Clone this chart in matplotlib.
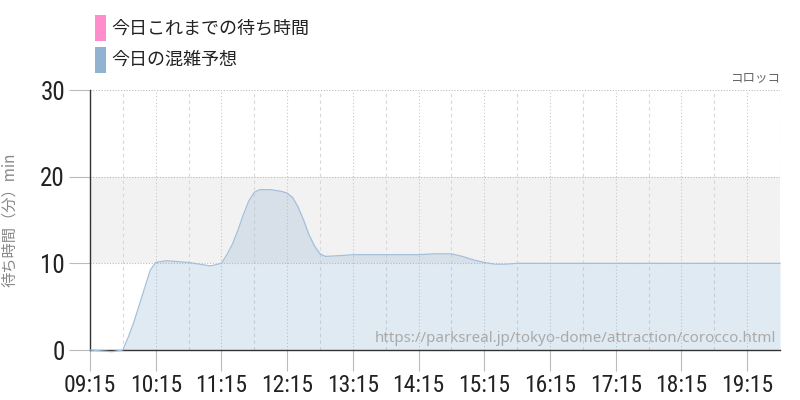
import numpy as np
import matplotlib.pyplot as plt
from matplotlib.patches import Rectangle

# 予想待ち時間（分）
times = ["09:15", "09:25", "09:35", "09:45", "09:50", "09:55", "10:00", "10:05",
         "10:10", "10:15", "10:25", "10:35", "10:45", "10:55", "11:05", "11:15",
         "11:20", "11:25", "11:30", "11:35", "11:40", "11:45", "11:50", "12:00",
         "12:10", "12:15", "12:20", "12:25", "12:30", "12:35", "12:40", "12:45",
         "12:50", "13:05", "13:15", "13:45", "14:15", "14:30", "14:45", "14:55",
         "15:05", "15:15", "15:25", "15:35", "15:45", "19:45"]
forecast = [0.0, -0.1, -0.2, 0.0, 1.5, 3.2, 5.2, 7.2,
            9.2, 10.1, 10.3, 10.2, 10.1, 9.9, 9.7, 10.0,
            11.0, 12.2, 13.8, 15.6, 17.2, 18.2, 18.5, 18.5,
            18.3, 18.1, 17.6, 16.5, 15.0, 13.3, 12.0, 11.1,
            10.8, 10.9, 11.0, 11.0, 11.0, 11.1, 11.1, 10.8,
            10.4, 10.1, 9.9, 9.9, 10.0, 10.0]
tick_labels = ["09:15", "10:15", "11:15", "12:15", "13:15", "14:15",
               "15:15", "16:15", "17:15", "18:15", "19:15"]
y_ticks = [0, 10, 20, 30]

legend_labels = ["今日これまでの待ち時間", "今日の混雑予想"]
legend_colors = ["#ff8ccc", "#8fb3d1"]


def to_min(t):
    h, m = t.split(":")
    return int(h) * 60 + int(m)


x = np.array([to_min(t) for t in times])
y = np.array(forecast)
x_ticks = [to_min(t) for t in tick_labels]
x_half = [v + 30 for v in x_ticks]

num_font = ["Roboto Condensed", "DejaVu Sans"]
jp_font = ["Noto Sans CJK JP", "DejaVu Sans"]

fig = plt.figure(figsize=(8, 4), dpi=100)
ax = fig.add_axes([0.1125, 0.125, 0.8625, 0.65])

ax.axhspan(10, 20, color="#f2f2f2", zorder=0, lw=0)
for v in x_ticks:
    ax.axvline(v, color="#c8c8c8", lw=0.8, ls=(0, (1, 2)), zorder=1)
for v in x_half:
    ax.axvline(v, color="#d8d8d8", lw=0.8, ls=(0, (3, 3)), zorder=1)
for v in [10, 20, 30]:
    ax.axhline(v, color="#bbbbbb", lw=0.8, ls=(0, (1, 1.5)), zorder=1)

ax.fill_between(x, 0, np.maximum(y, 0), color="#8fb3d1", alpha=0.27, lw=0, zorder=2)
ax.plot(x, y, color="#a3bfdb", lw=0.9, zorder=5, clip_on=False)

ax.set_xlim(x[0], x[-1])
ax.set_ylim(0, 30)
ax.set_xticks(x_ticks)
ax.set_xticklabels(tick_labels, fontfamily=num_font, fontstretch="condensed",
                   fontsize=17, color="#222222")
ax.set_yticks(y_ticks)
ax.set_yticklabels([str(v) for v in y_ticks], fontfamily=num_font,
                   fontstretch="condensed", fontsize=18, color="#222222")
ax.tick_params(axis="both", length=15, width=0.8, color="#bbbbbb", pad=2)
ax.tick_params(axis="y", pad=3)
for s in ["top", "right"]:
    ax.spines[s].set_visible(False)
for s in ["left", "bottom"]:
    ax.spines[s].set_color("#333333")
    ax.spines[s].set_linewidth(1.0)
ax.spines["bottom"].set_zorder(4)

ax.set_ylabel("待ち時間（分）min", fontfamily=jp_font, fontsize=11, color="#888888")
ax.yaxis.set_label_coords(-0.104, 0.5)

ax.text(0.995, 0.045, "https://parksreal.jp/tokyo-dome/attraction/corocco.html",
        transform=ax.transAxes, ha="right", va="center", fontsize=10.9,
        color="#aaaaaa", fontfamily=["Noto Sans", "DejaVu Sans"], zorder=6)
fig.text(0.975, 0.805, "コロッコ", ha="right", va="center", fontsize=9,
         color="#666666", fontfamily=jp_font)

for i, (lab, col) in enumerate(zip(legend_labels, legend_colors)):
    top = 15 + i * 32
    fig.add_artist(Rectangle((95 / 800, 1 - (top + 26) / 400), 11 / 800, 26 / 400,
                             transform=fig.transFigure, color=col, lw=0))
    fig.text(111 / 800, 1 - (top + 13) / 400, lab, ha="left", va="center",
             fontsize=13, color="#222222", fontfamily=jp_font)

fig.savefig("out.png", dpi=100)
